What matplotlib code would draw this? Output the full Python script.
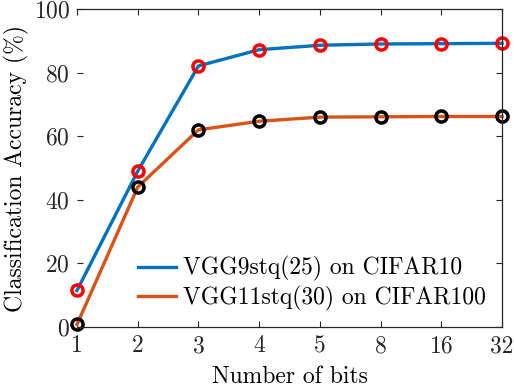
import matplotlib
matplotlib.use("Agg")
import matplotlib.pyplot as plt

plt.rcParams['font.family'] = 'cmr10'
plt.rcParams['mathtext.fontset'] = 'cm'
plt.rcParams['axes.formatter.use_mathtext'] = True

bit_labels = ["1", "2", "3", "4", "5", "8", "16", "32"]
vgg9_cifar10 = [11.5, 49.0, 82.1, 87.2, 88.6, 89.0, 89.1, 89.2]
vgg11_cifar100 = [0.8, 44.0, 62.0, 64.7, 66.0, 66.1, 66.2, 66.2]

x = list(range(1, len(bit_labels) + 1))

fig = plt.figure(figsize=(5.14, 3.88), dpi=100)
ax = fig.add_axes([0.1498, 0.1572, 0.8269, 0.8196])

ax.plot(x, vgg9_cifar10, color="#0072BD", lw=2.4, marker="o", ms=8,
        mfc="none", mec="red", mew=2.5, label="VGG9stq(25) on CIFAR10", clip_on=False)
ax.plot(x, vgg11_cifar100, color="#D95319", lw=2.4, marker="o", ms=8,
        mfc="none", mec="black", mew=2.5, label="VGG11stq(30) on CIFAR100", clip_on=False)

ax.set_xlim(1, 8)
ax.set_ylim(0, 100)
ax.set_xticks(x)
ax.set_xticklabels(bit_labels)
ax.set_yticks([0, 20, 40, 60, 80, 100])
ax.tick_params(direction="in", top=True, right=True, length=4, width=0.8,
               labelsize=17, pad=5, colors="#262626")
ax.tick_params(axis="x", pad=6)
ax.spines["left"].set_visible(False)
for s in ["top", "right", "bottom"]:
    ax.spines[s].set_color("#262626")
    ax.spines[s].set_linewidth(0.9)

ax.set_xlabel("Number of bits", fontsize=17, labelpad=6)
ax.set_ylabel("Classification Accuracy (%)", fontsize=17, labelpad=3)

ax.legend(loc="lower right", frameon=False, fontsize=17, handlelength=1.6,
          handletextpad=0.3, labelspacing=0.2, borderaxespad=0.0,
          bbox_to_anchor=(0.985, 0.02))
leg = ax.get_legend()
for h in leg.legend_handles:
    h.set_marker("")

fig.savefig("out.png", dpi=100)
